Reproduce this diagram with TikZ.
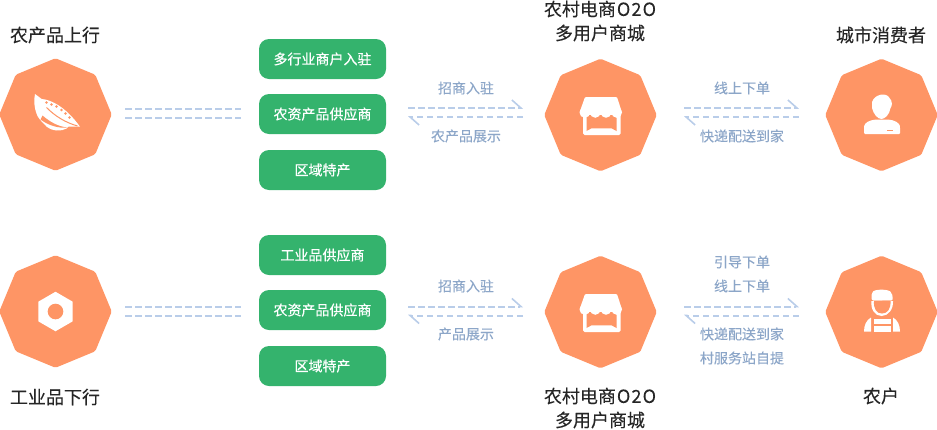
\documentclass[tikz,border=0pt]{standalone}
\usepackage{fontspec}
\setmainfont{Noto Sans CJK SC}
\newfontfamily\boxfont[FakeBold=0.5]{Noto Sans CJK SC}
\newfontfamily\notefont[FakeBold=0.15]{Noto Sans CJK SC}
\usetikzlibrary{shapes.geometric,arrows.meta}
\definecolor{octorange}{HTML}{FE9565}
\definecolor{itemgreen}{HTML}{34B36D}
\definecolor{linkblue}{HTML}{B9CDE9}
\definecolor{notecolor}{HTML}{8CA6C8}
\newcommand{\mallname}{农村电商\kern1pt O\kern1.2pt2\kern1.2ptO}
\tikzset{
  octagon/.style={regular polygon, regular polygon sides=8, shape border rotate=22.5,
    minimum size=112.5pt, inner sep=0pt, outer sep=0pt, fill=octorange, rounded corners=1.5pt},
  itembox/.style={rectangle, rounded corners=10pt, minimum width=127pt, minimum height=40pt,
    inner sep=0pt, fill=itemgreen, text=white, font=\boxfont\fontsize{14}{16}\selectfont},
  titletext/.style={inner sep=0pt, text=black!85, font=\notefont\fontsize{18}{20}\selectfont},
  notetext/.style={inner sep=0pt, text=notecolor, font=\notefont\fontsize{14}{16}\selectfont},
  dashlink/.style={draw=linkblue, line width=2pt, dash pattern=on 6.5pt off 3.5pt},
  halfarrow/.style={dashlink, -{Straight Barb[harpoon, length=9pt, width=16pt, line width=1.6pt]}},
  pics/shopicon/.style={code={
    \fill[white, rounded corners=1.5pt] (-17.5,-3) rectangle (20,20);
    \fill[octorange] (-14,0) -- (-14,16) -- (-9,13.3) -- (11,13.3) -- (16,16) -- (16,0) -- cycle;
    \fill[white, rounded corners=1pt] (-15.5,-18) -- (16.5,-18) -- (21.5,-2.5) -- (-21,-2.5) -- cycle;
    \foreach \cx in {-15.7,-5.2,5.5,16.2}
      \fill[white] (\cx,-2.5) circle[radius=5.3pt];
  }},
  pics/podicon/.style={code={
    \fill[white] (-20.5,-20.5) -- (-13.8,-15.5) .. controls (-5,-15) and (10,-8) .. (24.5,12.2)
      -- (12.8,12.2) -- (11,14) .. controls (6,17) and (-3,17) .. (-9,12)
      .. controls (-14,7) and (-18,3) .. (-19,-1) .. controls (-21,-6) and (-22,-14) .. cycle;
    \fill[octorange] (-15,5) .. controls (-7,11) and (3,14) .. (12,13) .. controls (2,12) and (-6,7) .. (-13,1) -- cycle;
    \draw[octorange, line width=1pt] (-9,-7) .. controls (0,2) and (10,8) .. (22,11.5);
    \foreach \sx/\sy in {-9/-12,-4/-10,1/-8,6/-4.5,10/-1,14/3}
      \fill[octorange] (\sx,\sy) circle[radius=1.3pt];
  }},
  pics/nuticon/.style={code={
    \node[regular polygon, regular polygon sides=6, shape border rotate=30, minimum size=39.5pt, inner sep=0pt, fill=white] (-pg) at (0,0) {};
    \fill[octorange] (0,0) circle[radius=7.8pt];
  }},
  pics/usericon/.style={code={
    \fill[white] (-9.5,-13) .. controls (-7,-21) and (5,-23) .. (8,-17) .. controls (11,-14) and (11,-9) .. (9,-7)
      .. controls (8,0) and (3,4) .. (0,4) .. controls (-4,4) and (-8,-1) .. (-9.5,-7) -- cycle;
    \fill[white, rounded corners=1pt] (-17.5,19) -- (-17.5,12) .. controls (-17,8) and (-12,5) .. (-5,4.5)
      -- (6,4.5) .. controls (13,5) and (18,8) .. (18.5,12) -- (18.5,19) -- cycle;
    \fill[octorange] (5.5,14.5) rectangle (11.5,16);
  }},
  pics/workericon/.style={code={
    \fill[white, rounded corners=2pt] (-10,-11.5) -- (-10,-19) .. controls (-6,-23) and (6,-23) .. (10.5,-19) -- (11.5,-11.5) -- cycle;
    \fill[white] (-10,-11) .. controls (-11,-3) and (-7,4) .. (0,4) .. controls (7,4) and (12,-3) .. (11.5,-11) -- cycle;
    \fill[octorange] (-7.5,-11) -- (9,-11.5) .. controls (9.5,-3) and (6,1.5) .. (0.5,1.5) .. controls (-5,1.5) and (-8,-3) .. cycle;
    \fill[white] (-17.5,19.5) .. controls (-17.5,13) and (-15,8) .. (-10.5,5.5) -- (-10.5,19.5) -- cycle;
    \fill[white] (18.5,19.5) .. controls (18.5,13) and (16,8) .. (11.5,5.5) -- (11.5,19.5) -- cycle;
    \fill[white] (-8,7) rectangle (9,11.5);
    \fill[white] (-8,13.5) rectangle (9,19.5);
  }},
}
\begin{document}
\begin{tikzpicture}[x=1pt,y=-1pt]
\useasboundingbox (0,0) rectangle (937,429);
% octagons
\node[octagon] (farmgoods) at (55.5,114.5) {};
\node[octagon] (mallup) at (600.5,115) {};
\node[octagon] (citybuyer) at (881.5,115) {};
\node[octagon] (toolgoods) at (55.5,311.5) {};
\node[octagon] (malldown) at (600.5,312) {};
\node[octagon] (farmer) at (881.5,312) {};
% icons
\pic at (farmgoods.center) {podicon};
\pic at (mallup.center) {shopicon};
\pic at (citybuyer.center) {usericon};
\pic (nut) at (toolgoods.center) {nuticon};
\pic at (malldown.center) {shopicon};
\pic at (farmer.center) {workericon};
% titles
\node[titletext] (farmgoodstitle) at (55,35) {农产品上行};
\node[titletext] (mallupa) at (600,9) {\mallname};
\node[titletext] (mallupb) at (600,33) {多用户商城};
\node[titletext] (citybuyertitle) at (881,35) {城市消费者};
\node[titletext] (toolgoodstitle) at (55,397) {工业品下行};
\node[titletext] (malldowna) at (600,396) {\mallname};
\node[titletext] (malldownb) at (600,420) {多用户商城};
\node[titletext] (farmertitle) at (881,396) {农户};
% green boxes
\node[itembox] (upboxa) at (322.5,59) {多行业商户入驻};
\node[itembox] (upboxb) at (322.5,114) {农资产品供应商};
\node[itembox] (upboxc) at (322.5,170) {区域特产};
\node[itembox] (downboxa) at (322.5,255) {工业品供应商};
\node[itembox] (downboxb) at (322.5,310) {农资产品供应商};
\node[itembox] (downboxc) at (322.5,366) {区域特产};
% small notes
\node[notetext] (noteupa) at (466,88) {招商入驻};
\node[notetext] (noteupb) at (466,136) {农产品展示};
\node[notetext] (noteupc) at (742,88) {线上下单};
\node[notetext] (noteupd) at (742,136) {快递配送到家};
\node[notetext] (notedowna) at (466,286) {招商入驻};
\node[notetext] (notedownb) at (466,334) {产品展示};
\node[notetext] (notedownc) at (742,262) {引导下单};
\node[notetext] (notedownd) at (742,286) {线上下单};
\node[notetext] (notedowne) at (742,334) {快递配送到家};
\node[notetext] (notedownf) at (742,358) {村服务站自提};
% link ends
\coordinate (upla) at (125,109);
\coordinate (uplb) at (241,109);
\coordinate (uplc) at (125,118);
\coordinate (upld) at (241,118);
\coordinate (upma) at (408,108);
\coordinate (upmb) at (523,108);
\coordinate (upmc) at (408,117);
\coordinate (upmd) at (523,117);
\coordinate (upra) at (684,108);
\coordinate (uprb) at (799,108);
\coordinate (uprc) at (684,117);
\coordinate (uprd) at (799,117);
\coordinate (downla) at (125,307);
\coordinate (downlb) at (241,307);
\coordinate (downlc) at (125,316);
\coordinate (downld) at (241,316);
\coordinate (downma) at (408,306.5);
\coordinate (downmb) at (523,306.5);
\coordinate (downmc) at (408,315.5);
\coordinate (downmd) at (523,315.5);
\coordinate (downra) at (684,306.5);
\coordinate (downrb) at (799,306.5);
\coordinate (downrc) at (684,315.5);
\coordinate (downrd) at (799,315.5);
% links
\draw[dashlink] (upla) -- (uplb);
\draw[dashlink] (uplc) -- (upld);
\draw[halfarrow] (upma) -- (upmb);
\draw[halfarrow] (upmd) -- (upmc);
\draw[halfarrow] (upra) -- (uprb);
\draw[halfarrow] (uprd) -- (uprc);
\draw[dashlink] (downla) -- (downlb);
\draw[dashlink] (downlc) -- (downld);
\draw[halfarrow] (downma) -- (downmb);
\draw[halfarrow] (downmd) -- (downmc);
\draw[halfarrow] (downra) -- (downrb);
\draw[halfarrow] (downrd) -- (downrc);
\end{tikzpicture}
\end{document}
